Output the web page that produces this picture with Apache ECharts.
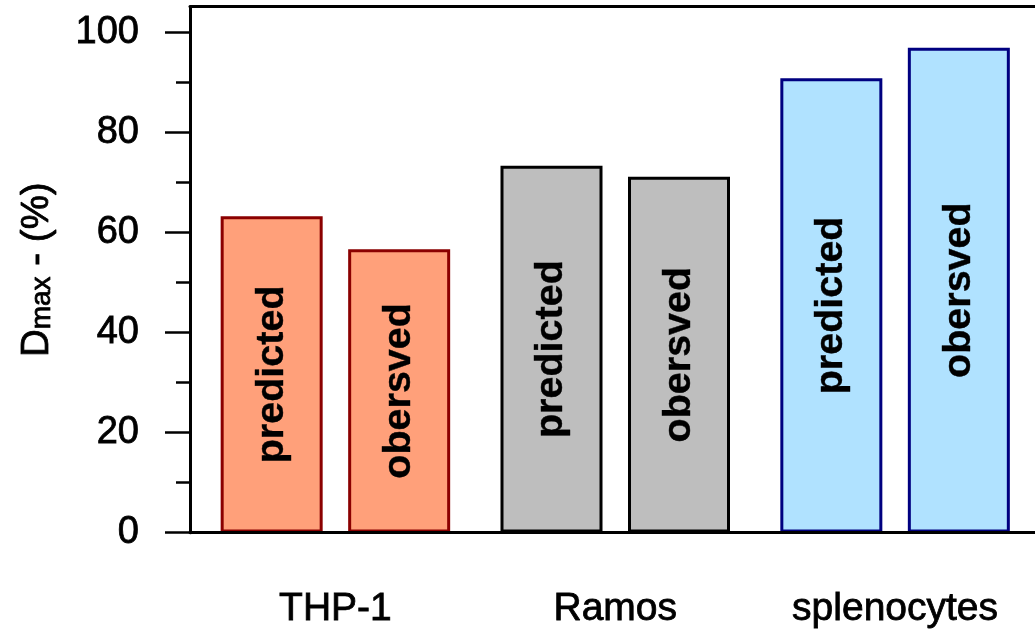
<!DOCTYPE html>
<html>
<head>
<meta charset="utf-8">
<script src="https://cdn.jsdelivr.net/npm/echarts@6/dist/echarts.min.js"></script>
<style>
  html, body { margin: 0; padding: 0; background: #fff; }
  #chart { width: 1035px; height: 629px; }
</style>
</head>
<body>
<div id="chart"></div>
<script>
// Cell lines and their maximal degradation (%)
const cellLines = ['THP-1', 'Ramos', 'splenocytes'];
const predicted = [63.3, 73.4, 90.9];
const observed = [56.7, 71.2, 97.0];
const seriesNames = ['predicted', 'obersved'];

// Y axis ticks
const yMajorTicks = [0, 20, 40, 60, 80, 100];
const yMinorTicks = [10, 30, 50, 70, 90];
const Y_MAX = 105.2;

// Per cell line colours
const fillColors = ['#FFA07A', '#BEBEBE', '#B0E2FF'];
const edgeColors = ['#8B0000', '#000000', '#000080'];

const FONT = "'Liberation Sans', Arial, Helvetica, sans-serif";

// slightly heavier glyphs for the plain text
const heavy = { textBorderColor: '#000', textBorderWidth: 0.8 };

function styled(values) {
  return values.map((v, i) => ({
    value: v,
    itemStyle: { color: fillColors[i], borderColor: edgeColors[i] }
  }));
}

const barLabel = {
  show: true,
  position: 'inside',
  rotate: 90,
  formatter: '{a}',
  color: '#000',
  fontWeight: 'bold',
  fontSize: 39.5,
  fontFamily: FONT,
  textBorderColor: '#000',
  textBorderWidth: 0.4
};

const option = {
  animation: false,
  backgroundColor: '#fff',
  grid: [
    { left: 190, top: 6.7, bottom: 96.3, width: 900 },
    { left: 195.5, top: 6.7, bottom: 96.3, width: 844.8 }
  ],
  xAxis: [
    {
      gridIndex: 0, type: 'value', min: 0, max: 1, position: 'bottom', z: 10,
      axisLine: { show: true, onZero: false, lineStyle: { color: '#000', width: 3 } },
      axisTick: { show: false }, axisLabel: { show: false }, splitLine: { show: false }
    },
    {
      gridIndex: 0, type: 'value', min: 0, max: 1, position: 'top', z: 10,
      axisLine: { show: true, onZero: false, lineStyle: { color: '#000', width: 3 } },
      axisTick: { show: false }, axisLabel: { show: false }, splitLine: { show: false }
    },
    {
      gridIndex: 1, type: 'category', data: cellLines,
      axisLine: { show: false }, axisTick: { show: false },
      axisLabel: Object.assign({ margin: 57, fontSize: 39, color: '#000', fontFamily: FONT }, heavy)
    }
  ],
  yAxis: [
    {
      gridIndex: 0, type: 'value', min: 0, max: Y_MAX, position: 'left', z: 10,
      axisLine: { show: true, onZero: false, lineStyle: { color: '#000', width: 3 } },
      axisTick: { show: true, length: 25, customValues: yMajorTicks, lineStyle: { color: '#000', width: 2.5 } },
      axisLabel: Object.assign({ customValues: yMajorTicks, margin: 51, fontSize: 38, color: '#000', fontFamily: FONT }, heavy),
      splitLine: { show: false },
      name: '{a|D}{b|max}{a| - (%)}',
      nameLocation: 'middle',
      nameRotate: 90,
      nameGap: 134,
      nameTextStyle: {
        color: '#000', fontFamily: FONT,
        rich: {
          a: Object.assign({ fontSize: 38.5, lineHeight: 38, color: '#000', fontFamily: FONT }, heavy),
          b: Object.assign({ fontSize: 28, lineHeight: 18, verticalAlign: 'bottom', color: '#000', fontFamily: FONT }, heavy)
        }
      }
    },
    {
      gridIndex: 0, type: 'value', min: 0, max: Y_MAX, position: 'left',
      axisLine: { show: false },
      axisTick: { show: true, length: 14, customValues: yMinorTicks, lineStyle: { color: '#000', width: 2.5 } },
      axisLabel: { show: false }, splitLine: { show: false }
    },
    { gridIndex: 1, type: 'value', min: 0, max: Y_MAX, show: false }
  ],
  series: [
    {
      name: seriesNames[0], type: 'bar', xAxisIndex: 2, yAxisIndex: 2,
      barWidth: 102, barGap: '25%',
      itemStyle: { borderWidth: 3 },
      label: barLabel,
      data: styled(predicted)
    },
    {
      name: seriesNames[1], type: 'bar', xAxisIndex: 2, yAxisIndex: 2,
      barWidth: 102, barGap: '25%',
      itemStyle: { borderWidth: 3 },
      label: barLabel,
      data: styled(observed)
    }
  ]
};

const chart = echarts.init(document.getElementById('chart'), null, { renderer: 'canvas' });
chart.setOption(option);
</script>
</body>
</html>
